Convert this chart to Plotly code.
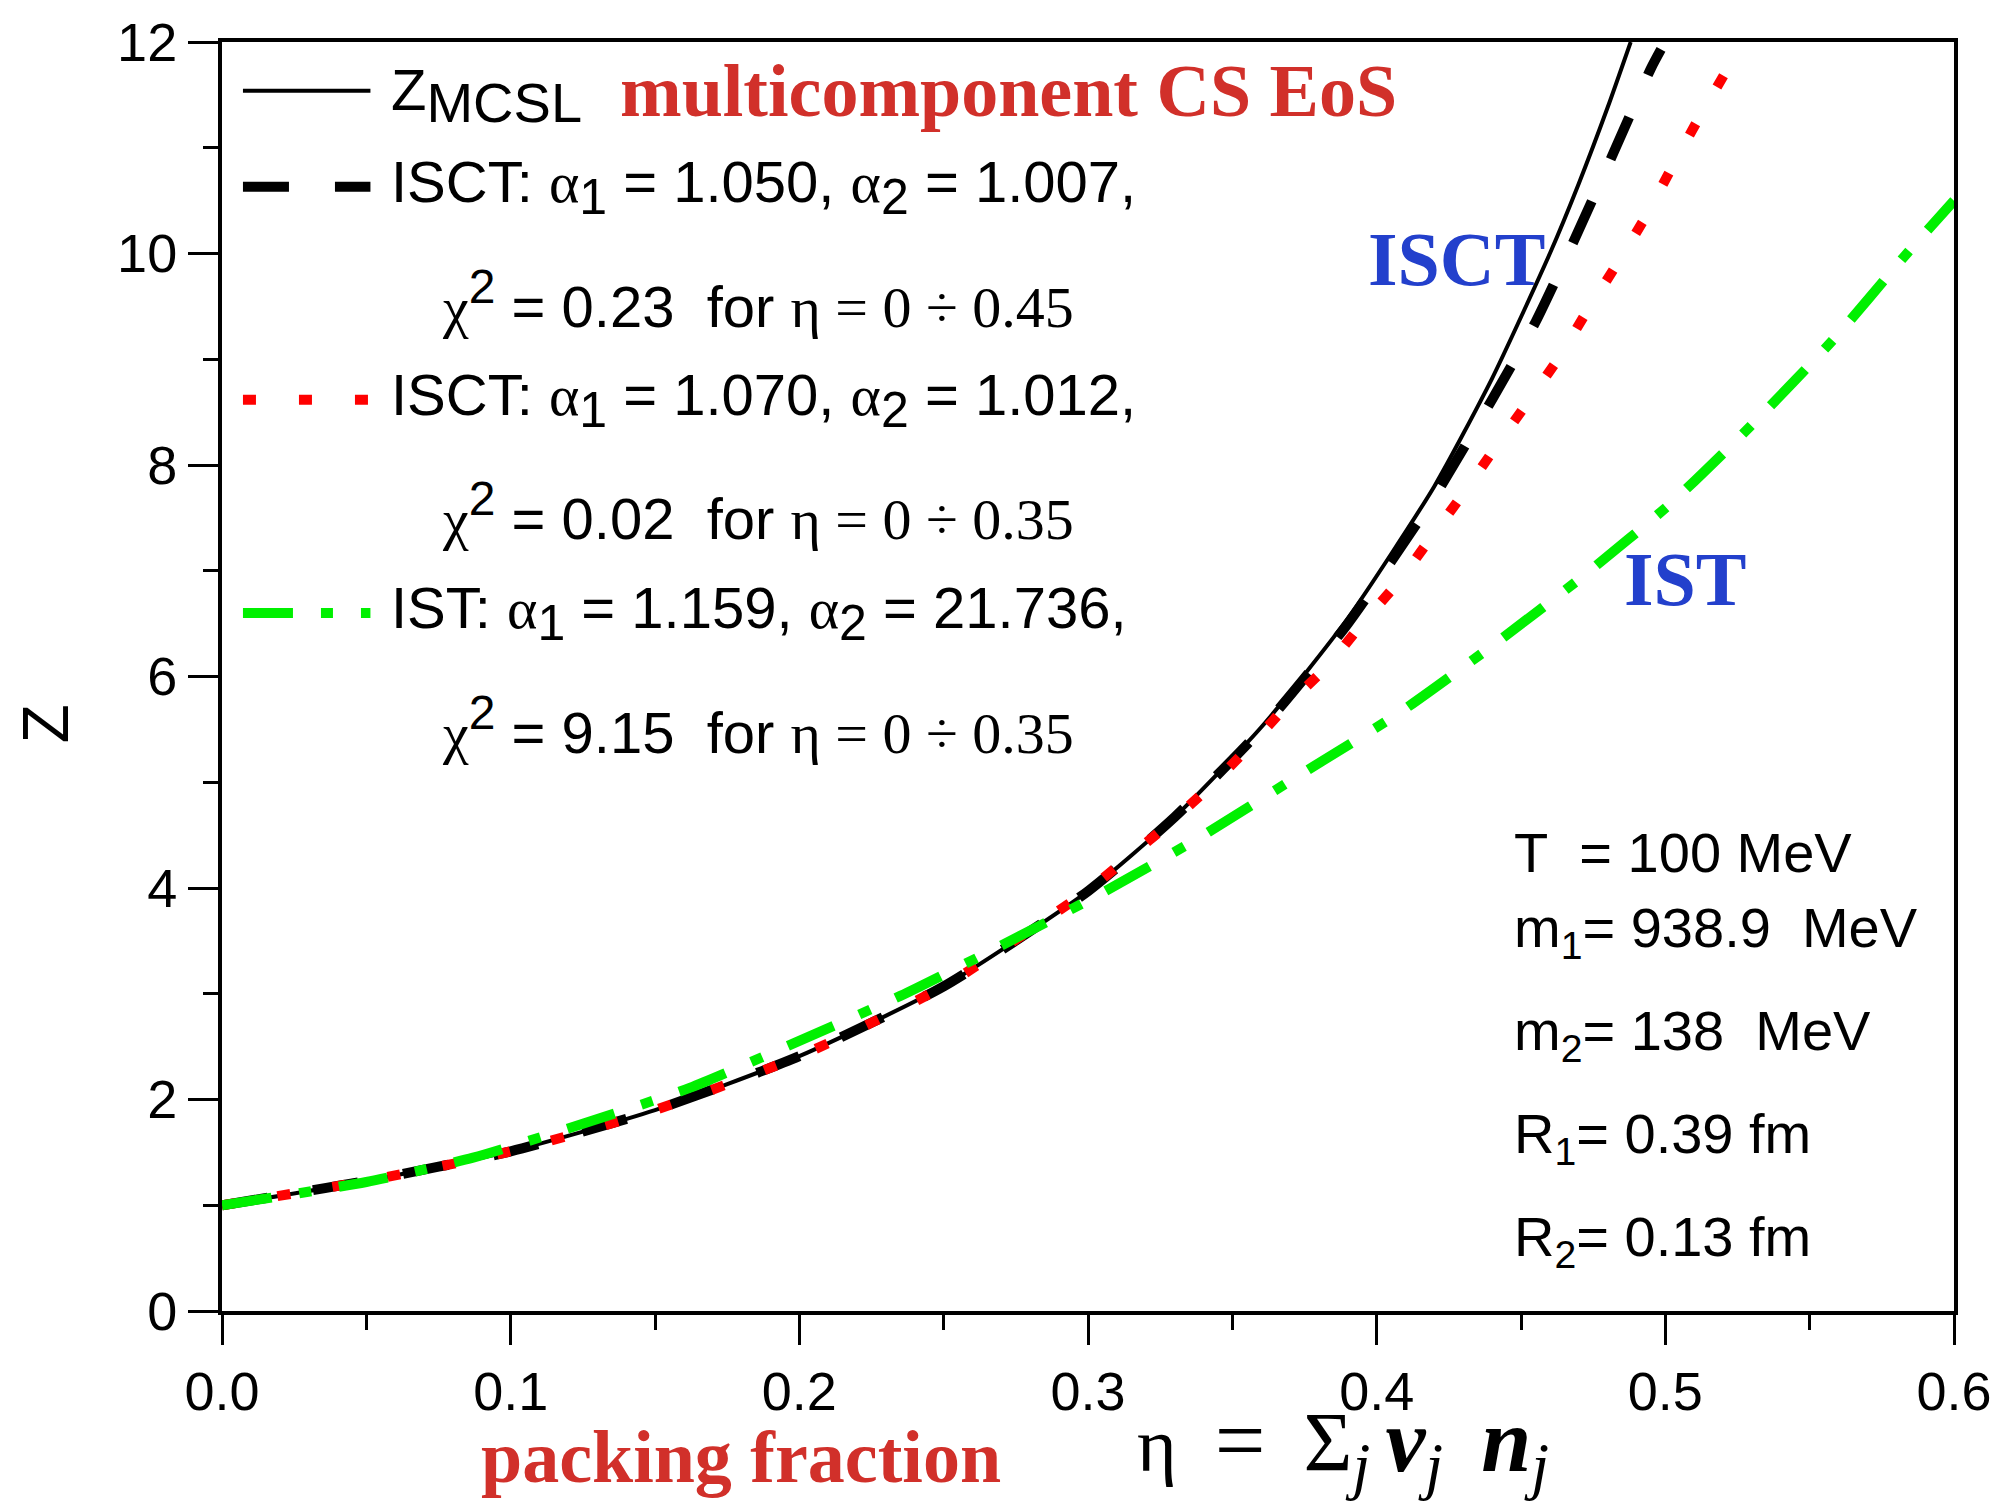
import plotly.graph_objects as go

# ---- data ----
eta_mcsl = [0.00, 0.05, 0.10, 0.15, 0.20, 0.25, 0.30, 0.33, 0.36, 0.39, 0.42, 0.44, 0.46, 0.47, 0.48, 0.488]
z_mcsl = [1.00, 1.23, 1.51, 1.90, 2.41, 3.07, 3.97, 4.67, 5.52, 6.55, 7.80, 8.82, 10.00, 10.66, 11.38, 12.00]

eta_isct1 = [0.00, 0.05, 0.10, 0.15, 0.20, 0.25, 0.30, 0.33, 0.36, 0.39, 0.42, 0.44, 0.455, 0.468, 0.482, 0.495, 0.4985]
z_isct1 = [1.00, 1.23, 1.51, 1.90, 2.41, 3.07, 3.97, 4.67, 5.50, 6.50, 7.70, 8.62, 9.35, 10.10, 10.95, 11.75, 11.93]

eta_isct2 = [0.00, 0.05, 0.10, 0.15, 0.20, 0.25, 0.30, 0.314, 0.329, 0.343, 0.356, 0.369, 0.383, 0.395,
             0.408, 0.419, 0.430, 0.441, 0.452, 0.463, 0.473, 0.483, 0.493, 0.502, 0.511, 0.521]
z_isct2 = [1.00, 1.23, 1.51, 1.90, 2.41, 3.07, 3.98, 4.29, 4.63, 4.98, 5.34, 5.73, 6.10, 6.50,
           6.91, 7.32, 7.73, 8.16, 8.58, 9.01, 9.46, 9.89, 10.34, 10.80, 11.25, 11.72]

eta_ist = [0.00, 0.05, 0.087, 0.125, 0.162, 0.198, 0.235, 0.271, 0.306, 0.340, 0.374, 0.408,
           0.440, 0.472, 0.502, 0.530, 0.558, 0.584, 0.600]
z_ist = [1.00, 1.22, 1.45, 1.77, 2.11, 2.53, 2.98, 3.47, 3.97, 4.50, 5.08, 5.66,
         6.29, 6.96, 7.64, 8.38, 9.18, 10.01, 10.50]

x_ticks = [0.0, 0.1, 0.2, 0.3, 0.4, 0.5, 0.6]
x_tick_labels = ["0.0", "0.1", "0.2", "0.3", "0.4", "0.5", "0.6"]
y_ticks = [0, 2, 4, 6, 8, 10, 12]
y_tick_labels = ["0", "2", "4", "6", "8", "10", "12"]

params = ["T\u00a0 = 100 MeV", "m<sub>1</sub>= 938.9\u00a0 MeV", "m<sub>2</sub>= 138\u00a0 MeV",
          "R<sub>1</sub>= 0.39 fm", "R<sub>2</sub>= 0.13 fm"]

# ---- styles ----
GREEN = "#00F000"
RED = "#FF0000"
BLUE = "#2340CC"
TRED = "#D1302A"
SANS = "Liberation Sans"
SERIF = "Liberation Serif"
FS = 58

st_black = dict(color="black", width=4, shape="spline", smoothing=0.6)
st_dash = dict(color="black", width=10, dash="46px,46px", shape="spline", smoothing=0.6)
st_dot = dict(color=RED, width=10, dash="13px,43px", shape="spline", smoothing=0.6)
st_dd = dict(color=GREEN, width=10, dash="50px,28px,12px,28px", shape="spline", smoothing=0.6)

fig = go.Figure()
fig.add_trace(go.Scatter(x=eta_mcsl, y=z_mcsl, mode="lines", line=st_black, showlegend=False))
fig.add_trace(go.Scatter(x=eta_isct1, y=z_isct1, mode="lines", line=st_dash, showlegend=False))
fig.add_trace(go.Scatter(x=eta_isct2, y=z_isct2, mode="lines", line=st_dot, showlegend=False))
fig.add_trace(go.Scatter(x=eta_ist, y=z_ist, mode="lines", line=st_dd, showlegend=False))

def sv(t):
    return '<span style="font-family:%s">%s</span>' % (SERIF, t)

def sb(t):
    return '<sub><span style="font-size:50px">%s</span></sub>' % t

def sp(t):
    return '<sup><span style="font-size:48px">%s</span></sup>' % t

ann = []
def add(text, x, y, size=FS, color="black", family=SANS, xanchor="left", yanchor="middle", textangle=0):
    ann.append(dict(text=text, x=x, y=y, xref="paper", yref="paper", showarrow=False,
                    xanchor=xanchor, yanchor=yanchor, textangle=textangle,
                    font=dict(size=size, color=color, family=family)))

# legend block
rows_y = [0.9545, 0.886, 0.7967, 0.718, 0.6294, 0.550, 0.4613]
add("Z" + '<sub><span style="font-size:56px">MCSL</span></sub>', 0.0967, 0.958)
add("<b>multicomponent CS EoS</b>", 0.2285, 0.9615, size=74, color=TRED, family=SERIF)
add("ISCT: " + sv("α") + sb("1") + " = 1.050, " + sv("α") + sb("2") + " = 1.007,", 0.0967, rows_y[1])
add(sv("χ") + sp("2") + " = 0.23\u00a0 for " + sv("η = 0 ÷ 0.45"), 0.126, rows_y[2])
add("ISCT: " + sv("α") + sb("1") + " = 1.070, " + sv("α") + sb("2") + " = 1.012,", 0.0967, rows_y[3])
add(sv("χ") + sp("2") + " = 0.02\u00a0 for " + sv("η = 0 ÷ 0.35"), 0.126, rows_y[4])
add("IST: " + sv("α") + sb("1") + " = 1.159, " + sv("α") + sb("2") + " = 21.736,", 0.0967, rows_y[5])
add(sv("χ") + sp("2") + " = 9.15\u00a0 for " + sv("η = 0 ÷ 0.35"), 0.126, rows_y[6])

# curve labels
add("<b>ISCT</b>", 0.7125, 0.829, size=76, color=BLUE, family=SERIF, xanchor="center")
add("<b>IST</b>", 0.845, 0.577, size=76, color=BLUE, family=SERIF, xanchor="center")

# parameters
for txt, yy in zip(params, [0.361, 0.299, 0.218, 0.137, 0.0558]):
    add(txt, 0.745, yy, size=56)

# axis titles
add("Z", -0.102, 0.4627, size=64, xanchor="center", textangle=-90)
add("<b>packing fraction</b>", 0.2998, -0.1147, size=74, color=TRED, family=SERIF, xanchor="center")
BIG = '<span style="font-size:90px">%s</span>'
SIG = '<span style="font-size:84px">%s</span>'
SUBJ = '<sub><span style="font-size:64px"><i>j</i></span></sub>'
add("η\u2002" + BIG % "=" + "\u2002" + SIG % "Σ" + SUBJ +
    "\u2009" + BIG % "<i><b>v</b></i>" + SUBJ + "\u2002" + BIG % "<i><b>n</b></i>" + SUBJ,
    0.527, -0.151, size=76, family=SERIF, yanchor="bottom")

# legend samples (decorations)
shapes = []
for yy, st in zip([0.9615, 0.886, 0.718, 0.550], [st_black, st_dash, st_dot, st_dd]):
    l = dict(color=st["color"], width=st["width"])
    if "dash" in st:
        l["dash"] = st["dash"]
    shapes.append(dict(type="line", xref="paper", yref="paper", x0=0.0121, x1=0.0857, y0=yy, y1=yy,
                       line=l))

fig.update_layout(
    width=2004, height=1504,
    margin=dict(l=222, r=44, t=37, b=193),
    paper_bgcolor="white", plot_bgcolor="white",
    annotations=ann, shapes=shapes,
    xaxis=dict(range=[0, 0.6], tickvals=x_ticks, ticktext=x_tick_labels,
               showgrid=False, zeroline=False, showline=True, linecolor="black", linewidth=4,
               mirror=True, ticks="outside", ticklen=30, tickwidth=3, tickcolor="black",
               tickfont=dict(family=SANS, size=54, color="black"),
               minor=dict(dtick=0.05, tick0=0, ticks="outside", ticklen=15, tickwidth=3, tickcolor="black")),
    yaxis=dict(range=[0, 12], tickvals=y_ticks, ticktext=y_tick_labels,
               showgrid=False, zeroline=False, showline=True, linecolor="black", linewidth=4,
               mirror=True, ticks="outside", ticklen=30, tickwidth=3, tickcolor="black",
               tickfont=dict(family=SANS, size=54, color="black"),
               minor=dict(dtick=1, tick0=0, ticks="outside", ticklen=15, tickwidth=3, tickcolor="black")),
)

fig.write_html("out.html")
